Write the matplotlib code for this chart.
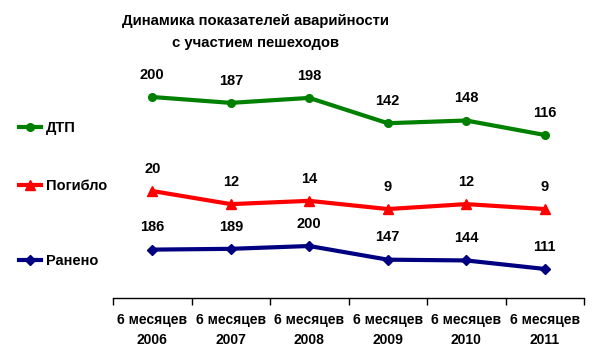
import numpy as np
import matplotlib.pyplot as plt

plt.rcParams['font.family'] = ['Liberation Sans', 'DejaVu Sans']

# Данные
periods = ['6 месяцев\n2006', '6 месяцев\n2007', '6 месяцев\n2008',
           '6 месяцев\n2009', '6 месяцев\n2010', '6 месяцев\n2011']
dtp = [200, 187, 198, 142, 148, 116]
pogiblo = [20, 12, 14, 9, 12, 9]
raneno = [186, 189, 200, 147, 144, 111]

W, H = 606, 356
fig = plt.figure(figsize=(W / 100, H / 100), dpi=100)
# область графика в пикселях: x 113..584, y 60..298 (сверху)
top_px, bot_px = 60, 298
ax = fig.add_axes([113 / W, 1 - bot_px / H, (584 - 113) / W, (bot_px - top_px) / H])

x = np.arange(len(periods))

def ylim_for(v_ref, y_ref, px_per_unit):
    # подбираем пределы оси, чтобы серия легла на своё место
    hi = v_ref + (y_ref - top_px) / px_per_unit
    lo = v_ref - (bot_px - y_ref) / px_per_unit
    return lo, hi

series = [
    ('ДТП', dtp, '#008000', 'o', 5.5, ylim_for(200, 97, 0.452), 128),
    ('Погибло', pogiblo, '#FF0000', '^', 6.5, ylim_for(20, 191, 1.64), 186),
    ('Ранено', raneno, '#000080', 'D', 5, ylim_for(200, 246, 0.258), 261),
]

for i, (name, vals, color, marker, ms, lims, leg_y) in enumerate(series):
    a = ax if i == 0 else ax.twinx()
    line, = a.plot(x, vals, color=color, lw=3, marker=marker, ms=ms, label=name)
    a.set_ylim(*lims)
    a.set_yticks([])
    for s in a.spines.values():
        s.set_visible(False)
    for xi, v in zip(x, vals):
        a.annotate(str(v), (xi, v), xytext=(0, 16), textcoords='offset points',
                   ha='center', va='center', fontsize=10.5, fontweight='bold')
    a.legend(handles=[line], loc='center left', bbox_to_anchor=(12 / W, 1 - leg_y / H),
             bbox_transform=fig.transFigure, frameon=False, borderpad=0,
             handlelength=1.5, handletextpad=0.3, prop={'size': 10.5, 'weight': 'bold'})

ax.set_xlim(-0.5, len(periods) - 0.5)
ax.set_xticks(x)
ax.set_xticklabels(periods, fontsize=10, fontweight='bold', linespacing=1.55)
ax.tick_params(axis='x', which='major', length=0, pad=11)
ax.set_xticks(np.arange(-0.5, len(periods)), minor=True)
ax.tick_params(axis='x', which='minor', length=5, width=1, color='black')
ax.spines['bottom'].set_visible(True)
ax.spines['bottom'].set_linewidth(1)

fig.text(256 / W, 1 - 32 / H, 'Динамика показателей аварийности\nс участием пешеходов',
         ha='center', va='center', fontsize=10.7, fontweight='bold', linespacing=1.7)

fig.savefig('out.png', dpi=100)
